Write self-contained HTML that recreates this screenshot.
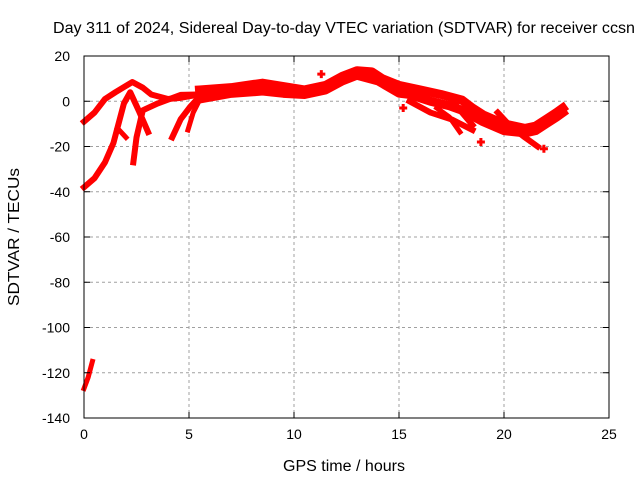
<!DOCTYPE html>
<html><head><meta charset="utf-8"><style>
body{margin:0;background:#fff}
svg{display:block;font-family:"Liberation Sans",sans-serif;font-size:13px}
</style></head><body>
<svg id="chart" width="640" height="480" viewBox="0 0 640 480">
<text x="344" y="33" text-anchor="middle" font-size="15.5" textLength="582" lengthAdjust="spacingAndGlyphs">Day 311 of 2024, Sidereal Day-to-day VTEC variation (SDTVAR) for receiver ccsn</text>
<text x="344" y="471" text-anchor="middle" font-size="15.5" textLength="122" lengthAdjust="spacingAndGlyphs">GPS time / hours</text>
<text transform="translate(19,237) rotate(-90)" text-anchor="middle" font-size="15.5" textLength="138" lengthAdjust="spacingAndGlyphs">SDTVAR / TECUs</text>
<g id="grid"></g><g id="series"></g><g id="axes"></g>
</svg>
<script>
const xTicks=[0,5,10,15,20,25];
const yTicks=[20,0,-20,-40,-60,-80,-100,-120,-140];
const trackA=[[0,-9],[0.5,-5],[1,1],[1.5,4],[2.3,8.5],[2.8,6],[3.2,3],[4,1],[4.6,1.5],[5.5,3],[6,4]];
const trackB=[[0,-38],[0.5,-34],[1,-27],[1.4,-18.5],[1.7,-8],[1.9,-1],[2.2,4],[2.6,-4],[3.05,-13.6]];
const trackBspur=[[1.6,-12],[2.0,-16]];
const trackC=[[2.35,-27],[2.5,-16],[2.8,-4],[3.5,-1],[4.6,2.8],[5.5,3]];
const trackD=[[4.2,-16],[4.6,-8],[5.05,-2.5],[5.7,4],[6.5,5]];
const trackE=[[4.95,-12.7],[5.2,-5],[5.5,0.5],[6,2]];
const mainUpper=[[5.5,5],[7,6],[8.5,8],[9.5,6.5],[10.5,5],[11,6],[11.5,7],[12.3,11],[13,13.5],[13.7,13],[14.2,10],[15,7],[16,5],[17,3],[18,0.5],[18.5,-3],[19,-6],[20,-10],[21,-12],[21.5,-11],[22,-8],[22.5,-5],[22.8,-3]];
const mainLower=[[5.5,1],[7,3.5],[8.5,4.5],[9.5,3.5],[10.5,3],[11.5,5],[12.3,9],[13,11.5],[14,9],[15,3.6],[15.5,3],[16.5,0],[17.4,-2],[18,-4],[19,-9],[20,-13],[21,-14],[21.5,-13],[22,-10],[22.5,-7],[22.8,-5]];
const branch1=[[15.5,0],[16.5,-5],[17.5,-8],[18.5,-12.7]];
const branch2=[[16.8,-3],[17.4,-7],[17.9,-13.6]];
const branch3=[[19.7,-5],[20.3,-11],[21,-16],[21.6,-20]];
const branch4=[[15,6.3],[16,5],[17.4,2],[18,-5],[18.5,-10.5]];
const trackLow=[[0,-127],[0.2,-122],[0.4,-115]];
const dots=[[11.3,12],[18.9,-18],[21.9,-21],[15.2,-3]];
const tracks=[[trackA,6],[trackB,6],[trackBspur,5],[trackC,6],[trackD,6],[trackE,5],[mainUpper,9],[mainLower,9],[branch1,6],[branch2,5],[branch3,6],[branch4,6],[trackLow,5]];
const X0=84,X1=609,Y0=56,Y1=418,xmin=0,xmax=25,ymin=-140,ymax=20;
const sx=v=>X0+(v-xmin)/(xmax-xmin)*(X1-X0);
const sy=v=>Y1-(v-ymin)/(ymax-ymin)*(Y1-Y0);
const NS="http://www.w3.org/2000/svg";
const g=document.getElementById('grid'),s=document.getElementById('series'),a=document.getElementById('axes');
function mk(t,at,p){const e=document.createElementNS(NS,t);for(const k in at)e.setAttribute(k,at[k]);p.appendChild(e);return e;}
xTicks.forEach(v=>{
 if(v>xmin&&v<xmax){const l=mk('line',{x1:sx(v),x2:sx(v),y1:Y0,y2:Y1,stroke:'#a0a0a0','stroke-dasharray':'3,3'},g);
 
 }
 const t=mk('text',{x:sx(v),y:Y1+21,'text-anchor':'middle','font-size':14},a);t.textContent=v;
 
 
 mk('line',{x1:sx(v),x2:sx(v),y1:Y1,y2:Y1-6,stroke:'#000'},a);
 mk('line',{x1:sx(v),x2:sx(v),y1:Y0,y2:Y0+6,stroke:'#000'},a);
});
yTicks.forEach(v=>{
 if(v>ymin&&v<ymax){const l=mk('line',{x1:X0,x2:X1,y1:sy(v),y2:sy(v),stroke:'#a0a0a0','stroke-dasharray':'3,3'},g);
 
 }
 const t=mk('text',{x:X0-14,y:sy(v)+5,'text-anchor':'end','font-size':14},a);t.textContent=v;
 
 
 mk('line',{x1:X0,x2:X0+6,y1:sy(v),y2:sy(v),stroke:'#000'},a);
 mk('line',{x1:X1,x2:X1-6,y1:sy(v),y2:sy(v),stroke:'#000'},a);
});
const b=mk('rect',{x:X0,y:Y0,width:X1-X0,height:Y1-Y0,fill:'none',stroke:'#000'},a);


tracks.forEach(([d,w])=>{
 const p=mk('polyline',{points:d.map(q=>sx(q[0])+','+sy(q[1])).join(' '),fill:'none',stroke:'#f00','stroke-width':w,'stroke-linejoin':'round','stroke-linecap':'square'},s);
 
 
});
dots.forEach(q=>{
 const r=mk('path',{d:`M${sx(q[0])-4},${sy(q[1])}h8M${sx(q[0])},${sy(q[1])-4}v8`,stroke:'#f00','stroke-width':3},s);
 
 
});
</script>
</body></html>
